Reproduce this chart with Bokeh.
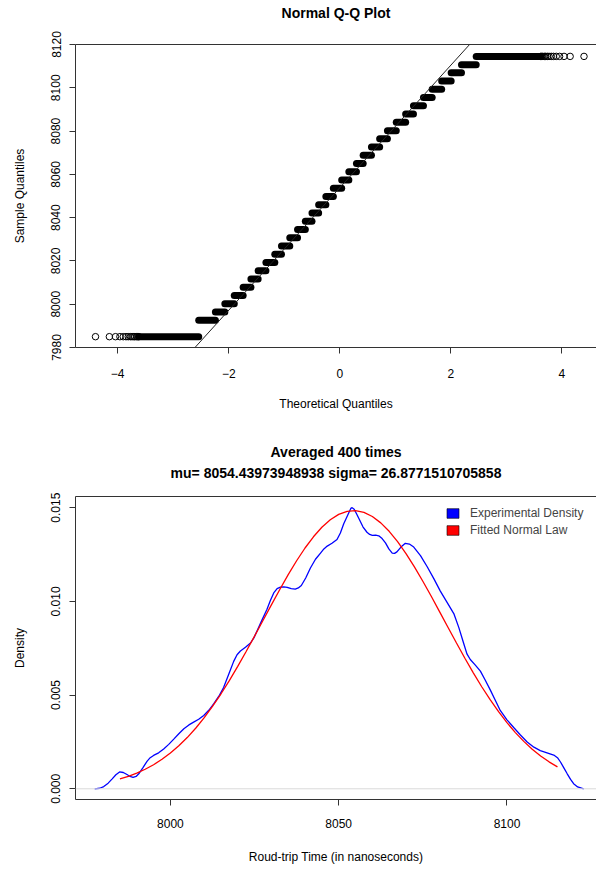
from bokeh.plotting import figure
from bokeh.layouts import column
from bokeh.models import (FixedTicker, PrintfTickFormatter, Range1d, LinearAxis,
                          Slope, Span, Legend, LegendItem, ColumnDataSource, Title)
from bokeh.embed import file_html
from bokeh.resources import INLINE

FONT = "Liberation Sans"

# ---------------- Q-Q plot data ----------------
qq_levels = [7985.0, 7992.6, 7996.4, 8000.2, 8004.0, 8007.8, 8011.7, 8015.5, 8019.3,
             8023.1, 8026.9, 8030.7, 8034.5, 8038.3, 8042.1, 8046.0, 8049.8, 8053.6,
             8057.4, 8061.2, 8065.0, 8068.8, 8072.6, 8076.4, 8080.2, 8084.1, 8087.9,
             8091.7, 8095.5, 8099.3, 8103.1, 8106.9, 8110.7, 8114.5]
qq_x_from = [-3.62, -2.54, -2.24, -2.07, -1.90, -1.74, -1.60, -1.47, -1.33,
             -1.17, -1.05, -0.90, -0.76, -0.62, -0.50, -0.38, -0.25, -0.115,
             0.035, 0.164, 0.301, 0.422, 0.571, 0.719, 0.859, 1.018, 1.187,
             1.328, 1.508, 1.665, 1.836, 2.007, 2.193, 2.458]
qq_x_to = [-2.54, -2.24, -2.07, -1.90, -1.74, -1.60, -1.47, -1.33, -1.17,
           -1.05, -0.90, -0.76, -0.62, -0.50, -0.38, -0.25, -0.115, 0.035,
           0.164, 0.301, 0.422, 0.571, 0.719, 0.859, 1.018, 1.187, 1.328,
           1.508, 1.665, 1.836, 2.007, 2.193, 2.458, 3.62]
qq_low_tail_x = [-4.40, -4.15, -4.04, -3.96, -3.90, -3.85, -3.81, -3.77, -3.74,
                 -3.71, -3.69, -3.66, -3.64, -3.62]
qq_low_tail_y = [7985.0] * len(qq_low_tail_x)
qq_high_tail_x = [3.62, 3.64, 3.66, 3.69, 3.71, 3.74, 3.77, 3.81, 3.85, 3.90,
                  3.96, 4.04, 4.15, 4.40]
qq_high_tail_y = [8114.5] * len(qq_high_tail_x)
qq_line_intercept = 8053.8
qq_line_slope = 28.3
qq_xticks = [-4, -2, 0, 2, 4]
qq_yticks = [7980, 8000, 8020, 8040, 8060, 8080, 8100, 8120]

# ---------------- Density plot data ----------------
dens_x = [7977.5, 7979.0, 7980.2, 7981.5, 7982.7, 7983.8, 7984.9, 7986.0, 7987.1,
          7988.0, 7988.9, 7989.8, 7990.6, 7991.8, 7993.1, 7994.0, 7995.0, 7996.5,
          7998.0, 7999.5, 8001.0, 8002.5, 8004.0, 8005.5, 8006.9, 8008.4, 8009.9,
          8011.4, 8012.9, 8014.4, 8015.8, 8017.3, 8018.8, 8019.8, 8020.8, 8022.3,
          8023.8, 8024.8, 8025.8, 8027.2, 8028.7, 8029.7, 8030.7, 8031.7, 8032.7,
          8033.7, 8034.7, 8035.9, 8037.1, 8038.0, 8038.9, 8040.2, 8041.6, 8043.1,
          8044.6, 8045.6, 8046.6, 8048.0, 8049.5, 8050.5, 8051.5, 8052.8, 8053.6,
          8054.0, 8054.6, 8055.3, 8056.0, 8057.2, 8058.4, 8059.2, 8060.0, 8061.0,
          8061.9, 8062.9, 8063.9, 8064.9, 8065.9, 8066.6, 8067.3, 8068.5, 8069.8,
          8071.0, 8072.3, 8074.3, 8076.3, 8078.3, 8080.2, 8082.2, 8084.2, 8085.7,
          8087.1, 8088.1, 8089.1, 8090.6, 8092.1, 8093.6, 8095.1, 8096.6, 8098.0,
          8100.0, 8102.0, 8104.0, 8106.0, 8108.0, 8109.9, 8111.9, 8113.9, 8115.0,
          8115.9, 8116.9, 8117.9, 8118.9, 8119.8, 8121.0, 8122.8]
dens_y = [0.0, 0.00003, 0.00012, 0.00030, 0.00053, 0.00075, 0.00090, 0.00087, 0.00076,
          0.00066, 0.00061, 0.00066, 0.00080, 0.00112, 0.00148, 0.00166, 0.00178, 0.00192,
          0.00212, 0.00237, 0.00265, 0.00294, 0.00320, 0.00341, 0.00356, 0.00371, 0.00391,
          0.00419, 0.00454, 0.00494, 0.00540, 0.00610, 0.00680, 0.00715, 0.00735, 0.00755,
          0.00778, 0.00805, 0.00845, 0.00900, 0.00958, 0.01005, 0.01045, 0.01068, 0.01076,
          0.01078, 0.01075, 0.01068, 0.01066, 0.01072, 0.01085, 0.01125, 0.01178, 0.01225,
          0.01258, 0.01280, 0.01295, 0.01310, 0.01330, 0.01365, 0.01414, 0.01465, 0.01496,
          0.01500, 0.01492, 0.01468, 0.01442, 0.01398, 0.01369, 0.01357, 0.01352, 0.01354,
          0.01350, 0.01335, 0.01312, 0.01280, 0.01258, 0.01256, 0.01264, 0.01290, 0.01310,
          0.01306, 0.01290, 0.01244, 0.01185, 0.01120, 0.01055, 0.00995, 0.00935, 0.00860,
          0.00778, 0.00720, 0.00690, 0.00660, 0.00628, 0.00578, 0.00525, 0.00470, 0.00418,
          0.00368, 0.00327, 0.00287, 0.00250, 0.00222, 0.00204, 0.00192, 0.00180, 0.00166,
          0.00143, 0.00112, 0.00080, 0.00050, 0.00027, 0.00010, 0.0]
normal_x = [7985.0, 7987.5, 7990.0, 7992.5, 7995.0, 7997.5, 8000.0, 8002.5, 8005.0,
            8007.5, 8010.0, 8012.5, 8015.0, 8017.5, 8020.0, 8022.5, 8025.0, 8027.5,
            8030.0, 8032.5, 8035.0, 8037.5, 8040.0, 8042.5, 8045.0, 8047.5, 8050.0,
            8052.5, 8055.0, 8057.5, 8060.0, 8062.5, 8065.0, 8067.5, 8070.0, 8072.5,
            8075.0, 8077.5, 8080.0, 8082.5, 8085.0, 8087.5, 8090.0, 8092.5, 8095.0,
            8097.5, 8100.0, 8102.5, 8105.0, 8107.5, 8110.0, 8112.5, 8115.0]
normal_y = [0.000527, 0.000668, 0.000838, 0.001043, 0.001286, 0.001573, 0.001908,
            0.002294, 0.002734, 0.003230, 0.003783, 0.004393, 0.005057, 0.005772,
            0.006531, 0.007326, 0.008147, 0.008982, 0.009817, 0.010637, 0.011426,
            0.012169, 0.012849, 0.013448, 0.013955, 0.014356, 0.014642, 0.014804,
            0.014840, 0.014747, 0.014529, 0.014190, 0.013740, 0.013190, 0.012553,
            0.011843, 0.011077, 0.010272, 0.009443, 0.008607, 0.007777, 0.006966,
            0.006186, 0.005446, 0.004753, 0.004113, 0.003529, 0.003000, 0.002530,
            0.002114, 0.001752, 0.001439, 0.001172]
dens_xticks = [8000, 8050, 8100]
dens_yticks = [0.0, 0.005, 0.010, 0.015]
legend_labels = ["Experimental Density", "Fitted Normal Law"]
legend_colors = ["#0000FF", "#FF0000"]

BOX = "#333333"


def style_axes(p, top_gap):
    for ax in p.xaxis + p.yaxis:
        ax.axis_line_color = BOX
        ax.major_tick_line_color = BOX
        ax.minor_tick_line_color = None
        ax.major_tick_in = 0
        ax.major_tick_out = 6
        ax.major_label_text_font = FONT
        ax.major_label_text_font_size = "12px"
        ax.major_label_text_color = "black"
        ax.axis_label_text_font = FONT
        ax.axis_label_text_font_size = "12px"
        ax.axis_label_text_font_style = "normal"
        ax.axis_label_text_color = "black"
    p.yaxis.major_label_orientation = "vertical"
    p.yaxis.major_label_standoff = 9
    p.yaxis.axis_label_standoff = 22
    p.grid.visible = False
    p.outline_line_color = None
    # top side of the box; its (invisible) tick length keeps the titles away from the frame
    top = LinearAxis(ticker=FixedTicker(ticks=[]), major_label_text_font_size="0px",
                     major_tick_out=top_gap, major_tick_in=0, minor_tick_out=0, minor_tick_in=0,
                     major_tick_line_color=None, minor_tick_line_color=None,
                     major_label_standoff=0, axis_line_color=BOX)
    p.add_layout(top, "above")


def style_title(t, standoff):
    t.align = "center"
    t.text_font = FONT
    t.text_font_size = "14px"
    t.text_font_style = "bold"
    t.text_color = "black"
    t.standoff = standoff


# ---------------- Figure 1: Q-Q ----------------
p1 = figure(width=596, height=430, output_backend="svg", toolbar_location=None,
            x_range=Range1d(-4.76, 4.625), y_range=Range1d(7980, 8120),
            min_border_left=75, min_border_right=0, min_border_top=44, min_border_bottom=83,
            x_axis_label="Theoretical Quantiles", y_axis_label="Sample Quantiles",
            background_fill_color="white", border_fill_color="white")
p1.title.text = "Normal Q-Q Plot"
style_title(p1.title, 5)
style_axes(p1, 21)
p1.xaxis.major_label_standoff = 15
p1.xaxis.axis_label_standoff = 16
p1.xaxis.ticker = FixedTicker(ticks=qq_xticks)
p1.yaxis.ticker = FixedTicker(ticks=qq_yticks)

qq_src = ColumnDataSource(dict(x0=qq_x_from, x1=qq_x_to, y=qq_levels))
p1.segment(x0="x0", y0="y", x1="x1", y1="y", source=qq_src,
           line_color="black", line_width=7, line_cap="round")
p1.scatter(qq_low_tail_x, qq_low_tail_y, marker="circle", size=6.5,
           fill_color=None, line_color="black", line_width=1)
p1.scatter(qq_high_tail_x, qq_high_tail_y, marker="circle", size=6.5,
           fill_color=None, line_color="black", line_width=1)
p1.add_layout(Slope(gradient=qq_line_slope, y_intercept=qq_line_intercept,
                    line_color="#222222", line_width=1))

# ---------------- Figure 2: density ----------------
p2 = figure(width=596, height=439, output_backend="svg", toolbar_location=None,
            x_range=Range1d(7971.8, 8126.6), y_range=Range1d(-0.000571, 0.015597),
            min_border_left=75, min_border_right=0, min_border_top=66, min_border_bottom=70,
            x_axis_label="Roud-trip Time (in nanoseconds)", y_axis_label="Density",
            background_fill_color="white", border_fill_color="white")
p2.title.text = "Averaged 400 times"
style_title(p2.title, 4)
style_axes(p2, 15)
sub = Title(text="mu= 8054.43973948938 sigma= 26.8771510705858")
style_title(sub, 2)
p2.add_layout(sub, "above")
p2.xaxis.major_label_standoff = 13
p2.xaxis.axis_label_standoff = 19
p2.xaxis.ticker = FixedTicker(ticks=dens_xticks)
p2.yaxis.ticker = FixedTicker(ticks=dens_yticks)
p2.yaxis.formatter = PrintfTickFormatter(format="%.3f")

p2.add_layout(Span(location=0, dimension="width", line_color="#d9d9d9", line_width=1))
p2.line(dens_x, dens_y, line_color=legend_colors[0], line_width=1.3)
p2.line(normal_x, normal_y, line_color=legend_colors[1], line_width=1.3)

nan = float("nan")
leg_b = p2.quad(left=[nan], right=[nan], top=[nan], bottom=[nan], fill_color=legend_colors[0],
                line_color="black", line_width=0.6)
leg_r = p2.quad(left=[nan], right=[nan], top=[nan], bottom=[nan], fill_color=legend_colors[1],
                line_color="black", line_width=0.6)
legend = Legend(items=[LegendItem(label=legend_labels[0], renderers=[leg_b]),
                       LegendItem(label=legend_labels[1], renderers=[leg_r])],
                location=(370, 262), padding=0, margin=0, spacing=3,
                glyph_width=15, glyph_height=12, label_height=14, label_standoff=10,
                label_text_font=FONT, label_text_font_size="12px",
                border_line_color=None, background_fill_alpha=0)
p2.add_layout(legend)

layout = column(p1, p2, spacing=0)
open("out.html", "w").write(file_html(layout, INLINE))
